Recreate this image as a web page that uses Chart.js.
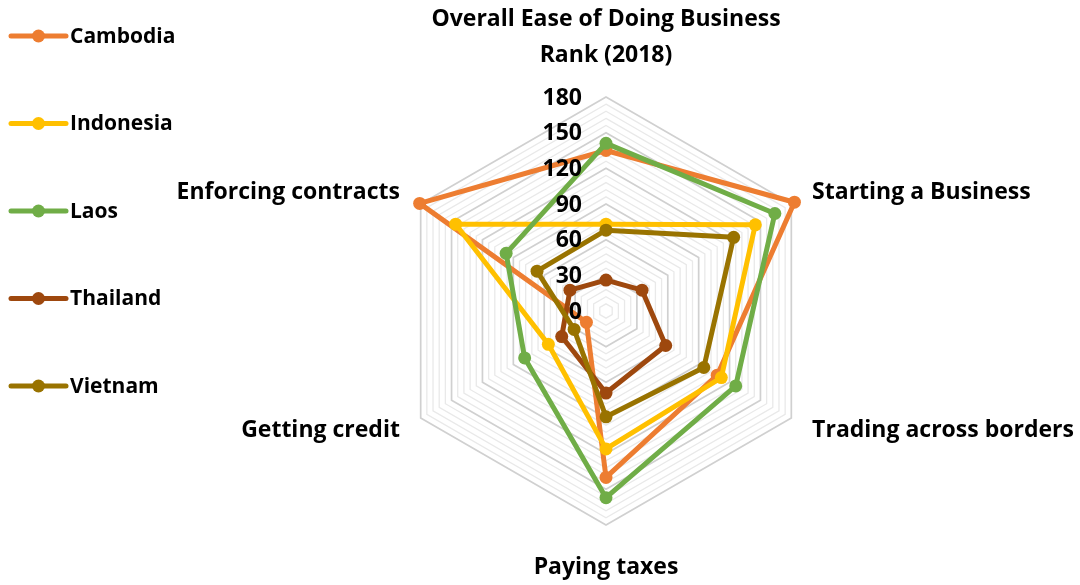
<!DOCTYPE html>
<html>
<head>
<meta charset="utf-8">
<title>Ease of Doing Business 2018</title>
<script src="https://cdn.jsdelivr.net/npm/chart.js@4.4.1/dist/chart.umd.min.js"></script>
<style>
  html, body { margin: 0; padding: 0; background: #fff; }
  #chart { display: block; }
</style>
</head>
<body>
<canvas id="chart" width="1080" height="585"></canvas>
<script>
var categories = [["Overall Ease of Doing Business", "Rank (2018)"], "Starting a Business", "Trading across borders", "Paying taxes", "Getting credit", "Enforcing contracts"];
var cambodia  = [135, 183, 108, 140, 19, 181];
var indonesia = [73, 145, 112, 116, 56, 146];
var laos      = [141, 164, 126, 157, 79, 97];
var thailand  = [26, 35, 58, 69, 43, 35];
var vietnam   = [68, 124, 95, 89, 31, 67];
var tickLabels = [0, 30, 60, 90, 120, 150, 180];

var font = "bold 23px 'Open Sans', Lato, sans-serif";
var legendFont = "bold 21px 'Open Sans', Lato, sans-serif";

function series(label, data, color, order) {
    return {
        label: label,
        data: data,
        order: order,   // later countries sit on top, like the original
        borderColor: color,
        backgroundColor: color,
        pointBackgroundColor: color,
        pointBorderColor: color,
        borderWidth: 5,
        pointRadius: 6.5,
        pointBorderWidth: 0,
        borderJoinStyle: 'round',
        borderCapStyle: 'round',
        fill: false,
        tension: 0
    };
}

// tick labels, category labels and the left legend
var textPlugin = {
    id: 'textPlugin',
    afterDatasetsDraw: function(chart) {
        var ctx = chart.ctx;
        var r = chart.scales.r;
        ctx.save();
        ctx.font = font;
        ctx.fillStyle = '#000';
        ctx.textBaseline = 'middle';

        ctx.textAlign = 'right';
        tickLabels.forEach(function(v) {
            ctx.fillText(String(v), r.xCenter - 24, r.yCenter - r.getDistanceFromCenterForValue(v) + 1);
        });

        categories.forEach(function(label, i) {
            var lines = [].concat(label);
            var vertical = (i === 0 || i === 3);
            var p = r.getPointPosition(i, r.drawingArea + (vertical ? 42 : 24));
            ctx.textAlign = vertical ? 'center' : (p.x > r.xCenter ? 'left' : 'right');
            lines.forEach(function(line, j) {
                var y = i === 0 ? p.y - (lines.length - 1 - j) * 36 : p.y + j * 36;
                ctx.fillText(line, p.x, y);
            });
        });

        ctx.font = legendFont;
        chart.data.datasets.forEach(function(ds, i) {
            var y = 36 + i * 87.5;
            ctx.strokeStyle = ds.borderColor;
            ctx.lineWidth = 5;
            ctx.lineCap = 'round';
            ctx.beginPath();
            ctx.moveTo(11, y);
            ctx.lineTo(66, y);
            ctx.stroke();
            ctx.fillStyle = ds.borderColor;
            ctx.beginPath();
            ctx.arc(38.5, y, 6.5, 0, Math.PI * 2);
            ctx.fill();
            ctx.fillStyle = '#000';
            ctx.textAlign = 'left';
            ctx.fillText(ds.label, 70, y + 1);
        });
        ctx.restore();
    }
};

var ctx = document.getElementById('chart');
var radar = new Chart(ctx, {
    type: 'radar',
    data: {
        labels: categories,
        datasets: [
            series('Cambodia', cambodia, '#ED7D31', 4),
            series('Indonesia', indonesia, '#FFC000', 3),
            series('Laos', laos, '#70AD47', 2),
            series('Thailand', thailand, '#9E480E', 1),
            series('Vietnam', vietnam, '#997300', 0)
        ]
    },
    options: {
        responsive: false,
        animation: false,
        events: [],
        layout: {
            padding: { left: 392, right: 260, top: 97, bottom: 60 }
        },
        plugins: {
            legend: { display: false },
            tooltip: { enabled: false }
        },
        scales: {
            r: {
                min: 0,
                max: 180,
                ticks: { stepSize: 6, display: false },
                angleLines: { display: false },
                pointLabels: { display: false },
                grid: {
                    color: function(c) { return c.tick.value % 30 === 0 ? '#d0d0d0' : '#e9e9e9'; },
                    lineWidth: function(c) { return c.tick.value % 30 === 0 ? 1.7 : 1.3; }
                }
            }
        }
    },
    plugins: [textPlugin]
});
</script>
</body>
</html>
